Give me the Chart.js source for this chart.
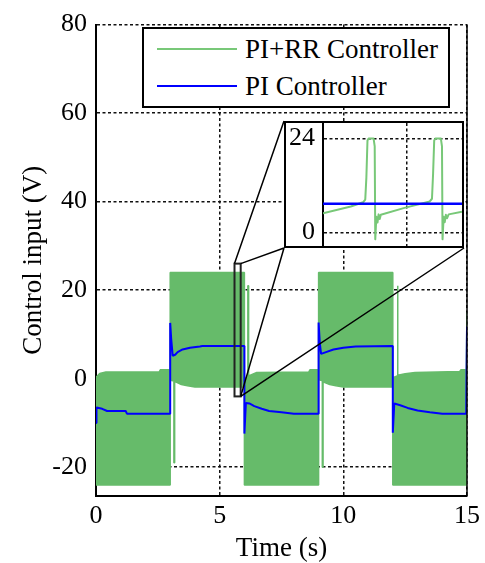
<!DOCTYPE html>
<html>
<head>
<meta charset="utf-8">
<script src="https://cdn.jsdelivr.net/npm/chart.js@4.4.0/dist/chart.umd.min.js"></script>
<style>
  html, body { margin: 0; padding: 0; background: #fff; }
  #wrap { position: relative; width: 485px; height: 563px; }
  canvas { display: block; }
  #legend {
    position: absolute; left: 142px; top: 27px; width: 304px; height: 77px;
    border: 2px solid #000; background: #fff;
    font-family: "Liberation Serif", "Times New Roman", serif; font-size: 27px; color: #000;
  }
  .row { position: absolute; left: 0; height: 36px; display: flex; align-items: center; white-space: nowrap; }
  .swatch { width: 80px; margin-left: 13px; margin-right: 8px; }
  #inset {
    position: absolute; left: 284px; top: 121px; width: 176px; height: 123px;
    border: 2px solid #000; background: #fff;
  }
</style>
</head>
<body>
<div id="wrap">
  <canvas id="mainChart" width="485" height="563"></canvas>
  <div id="legend"></div>
  <div id="inset"><canvas id="insetChart" width="176" height="123"></canvas></div>
</div>
<script>
// PI+RR controller switches fast, so it is drawn as a band: upper / lower envelope
var rrTime  = [0, 0.15, 0.4, 2.55, 2.6, 3.0,
               3.0, 3.15, 3.15, 3.18, 3.18, 3.45, 3.7, 4.0, 6.0,
               6.0, 6.14, 6.14, 6.17, 6.17, 6.5, 8.6, 8.65, 9.0,
               9.0, 9.15, 9.15, 9.18, 9.18, 9.45, 9.7, 10.0, 12.0,
               12.0, 12.18, 12.18, 12.21, 12.21, 12.5, 12.9, 14.7, 14.75, 14.97, 15.0];
var rrUpper = [0.3, 1.2, 1.5, 1.5, 2.0, 2.0,
               24, 24, 24, 24, 24, 24, 24, 24, 24,
               0.0, 0.4, 21, 21, 0.6, 1.4, 1.5, 2.0, 2.0,
               24, 24, 24, 24, 24, 24, 24, 24, 24,
               0.2, 0.6, 21, 21, 0.8, 1.1, 1.4, 1.6, 2.0, 2.0, 15];
var rrLower = [-24, -24, -24, -24, -24, -24,
               -0.3, -0.5, -19, -19, -0.6, -1.3, -1.6, -1.9, -1.9,
               -24, -24, -24, -24, -24, -24, -24, -24, -24,
               -0.2, -0.5, -20, -20, -0.7, -1.3, -1.6, -1.9, -1.9,
               -24, -24, -24, -24, -24, -24, -24, -24, -24, -24, -24];

// PI controller output
var piTime  = [0, 0.02, 0.25, 0.45, 1.2, 1.25, 3.0, 3.0, 3.04, 3.1,
               3.2, 3.3, 3.5, 3.8, 4.2, 4.3, 6.0, 6.0, 6.06, 6.2,
               6.4, 6.7, 7.0, 7.5, 8.0, 9.0, 9.0, 9.05, 9.1, 9.3,
               9.6, 10.0, 10.5, 12.0, 12.0, 12.06, 12.3, 12.6, 13.0, 13.5,
               14.0, 14.97, 15.0];
var piValue = [-10, -6.5, -6.8, -7.3, -7.3, -7.9, -7.9, 12.6, 9, 5.2,
               5.4, 6.0, 6.6, 7.0, 7.3, 7.4, 7.4, -12.4, -5.5, -5.6,
               -6.2, -6.8, -7.3, -7.6, -7.9, -7.9, 12.7, 8, 5.6, 6.0,
               6.6, 7.0, 7.3, 7.4, -12.2, -5.6, -6.0, -6.6, -7.2, -7.6,
               -7.9, -7.9, 11.8];

// close-up of both controllers around t = 5.7 s
var zoomTime = [5.600, 5.650, 5.672, 5.676, 5.678, 5.680, 5.682, 5.691, 5.693, 5.694,
                5.696, 5.698, 5.700, 5.702, 5.704, 5.745, 5.792, 5.796, 5.798, 5.800,
                5.802, 5.812, 5.814, 5.815, 5.817, 5.819, 5.821, 5.823, 5.826, 5.850];
var zoomRR   = [4.9, 6.6, 7.7, 8.4, 14, 23.5, 24, 24, 22, -1.8,
                4.0, 2.5, 4.6, 3.4, 4.5, 6.2, 7.9, 8.6, 15, 23.5,
                24, 24, 22, -1.8, 4.0, 2.6, 4.5, 3.6, 4.6, 5.3];
var zoomPITime = [5.6, 5.85];
var zoomPI     = [7.3, 7.3];

// axes
var xTicks = [0, 5, 10, 15];
var yTicks = [-20, 0, 20, 40, 60, 80];
var insetYTicks = [0, 24];
var insetXGrid = [5.75];
var zoomBox = { tMin: 5.6, tMax: 5.85, vMin: -4, vMax: 26 };

var green = 'rgb(102,187,106)';
var greenLight = 'rgb(120,200,120)';
var blue = 'rgb(0,0,255)';
var serif = '"Liberation Serif", "Times New Roman", serif';

function pts(xs, ys) {
    return xs.map(function (x, i) { return { x: x, y: ys[i] }; });
}

var gridOpts = { color: '#111', lineWidth: 1.5, drawTicks: false, borderDash: [3, 2.5] };

// frame on the right, zoom rectangle and the lines out to the inset
var frameLines = {
    id: 'frameLines',
    afterDraw: function (chart) {
        var c = chart.ctx, a = chart.chartArea;
        var xs = chart.scales.x, ys = chart.scales.y;
        c.save();
        c.strokeStyle = '#000';
        c.lineWidth = 1.5;
        c.beginPath();
        c.moveTo(a.right, a.top);
        c.lineTo(a.right, a.bottom);
        c.stroke();

        var x0 = xs.getPixelForValue(zoomBox.tMin), x1 = xs.getPixelForValue(zoomBox.tMax);
        var y0 = ys.getPixelForValue(zoomBox.vMax), y1 = ys.getPixelForValue(zoomBox.vMin);
        c.lineWidth = 2;
        c.strokeStyle = '#222';
        c.strokeRect(x0, y0, x1 - x0, y1 - y0);

        var box = document.getElementById('inset');
        var bl = box.offsetLeft, bt = box.offsetTop;
        var br = bl + box.offsetWidth, bb = bt + box.offsetHeight;
        c.lineWidth = 1.5;
        c.strokeStyle = '#000';
        c.beginPath();
        c.moveTo(x0, y0); c.lineTo(bl, bt);
        c.moveTo(x1, y0); c.lineTo(bl, bb);
        c.moveTo(x1, y1); c.lineTo(bl, bb);
        c.moveTo(x1, y1); c.lineTo(br, bb);
        c.stroke();
        c.restore();
    }
};

var mainChart = new Chart(document.getElementById('mainChart').getContext('2d'), {
    type: 'line',
    data: {
        datasets: [{
            label: 'PI+RR Controller',
            data: pts(rrTime, rrUpper),
            borderColor: green,
            backgroundColor: green,
            borderWidth: 1.5,
            fill: '+1',
            order: 2
        }, {
            label: 'PI+RR lower',
            data: pts(rrTime, rrLower),
            borderColor: green,
            borderWidth: 1.5,
            fill: false,
            order: 2
        }, {
            label: 'PI Controller',
            data: pts(piTime, piValue),
            borderColor: blue,
            borderWidth: 2,
            fill: false,
            order: 1
        }]
    },
    options: {
        responsive: false,
        animation: false,
        layout: { autoPadding: false, padding: { top: 20, right: 15.5, left: 0, bottom: 0 } },
        elements: {
            point: { radius: 0 },
            line: { tension: 0, borderJoinStyle: 'bevel' }
        },
        plugins: { legend: { display: false }, tooltip: { enabled: false } },
        scales: {
            x: {
                type: 'linear', min: 0, max: 15,
                afterBuildTicks: function (s) { s.ticks = xTicks.map(function (v) { return { value: v }; }); },
                afterFit: function (s) { s.height = 67; },
                grid: gridOpts,
                border: { display: true, color: '#000', width: 2, dash: [3, 2.5] },
                ticks: { color: '#000', padding: 5, font: { family: serif, size: 26 } },
                title: { display: true, text: 'Time (s)', color: '#000', padding: { bottom: 1 },
                         font: { family: serif, size: 27, lineHeight: 1 } }
            },
            y: {
                type: 'linear', min: -26.5, max: 80,
                afterBuildTicks: function (s) { s.ticks = yTicks.map(function (v) { return { value: v }; }); },
                afterFit: function (s) { s.width = 96; },
                grid: gridOpts,
                border: { display: true, color: '#000', width: 2, dash: [3, 2.5] },
                ticks: { color: '#000', padding: 9, font: { family: serif, size: 26 } },
                title: { display: true, text: 'Control input (V)', color: '#000', padding: { top: 20 },
                         font: { family: serif, size: 27, lineHeight: 1 } }
            }
        }
    },
    plugins: [frameLines]
});

// legend entries taken from the datasets
var legendEl = document.getElementById('legend');
[0, 2].forEach(function (idx, row) {
    var ds = mainChart.data.datasets[idx];
    var r = document.createElement('div');
    r.className = 'row';
    r.style.top = (2 + row * 37) + 'px';
    var sw = document.createElement('div');
    sw.className = 'swatch';
    sw.style.borderTop = (idx === 0 ? '2px solid ' + greenLight : '2px solid ' + ds.borderColor);
    var tx = document.createElement('span');
    tx.innerText = ds.label;
    r.appendChild(sw);
    r.appendChild(tx);
    legendEl.appendChild(r);
});

// inset with the close-up
new Chart(document.getElementById('insetChart').getContext('2d'), {
    type: 'line',
    data: {
        datasets: [{
            label: 'PI Controller',
            data: pts(zoomPITime, zoomPI),
            borderColor: blue,
            borderWidth: 2.5,
            fill: false
        }, {
            label: 'PI+RR Controller',
            data: pts(zoomTime, zoomRR),
            borderColor: greenLight,
            borderWidth: 2,
            fill: false
        }]
    },
    options: {
        responsive: false,
        animation: false,
        layout: { autoPadding: false, padding: 0 },
        elements: {
            point: { radius: 0 },
            line: { tension: 0, borderJoinStyle: 'round' }
        },
        plugins: { legend: { display: false }, tooltip: { enabled: false } },
        scales: {
            x: {
                type: 'linear', min: 5.6, max: 5.85,
                afterBuildTicks: function (s) { s.ticks = insetXGrid.map(function (v) { return { value: v }; }); },
                afterFit: function (s) { s.height = 0; s.paddingLeft = 0; s.paddingRight = 0; },
                grid: gridOpts,
                border: { display: false, dash: [3, 2.5] },
                ticks: { display: false }
            },
            y: {
                type: 'linear', min: -3.5, max: 28,
                afterBuildTicks: function (s) { s.ticks = insetYTicks.map(function (v) { return { value: v }; }); },
                // labels sit well inside the range, so no room is kept for them above or below
                afterFit: function (s) { s.width = 37; s.paddingTop = 0; s.paddingBottom = 0; },
                grid: gridOpts,
                border: { display: true, color: '#000', width: 2, dash: [3, 2.5] },
                ticks: { color: '#000', padding: 8, font: { family: serif, size: 26 } }
            }
        }
    }
});
</script>
</body>
</html>
